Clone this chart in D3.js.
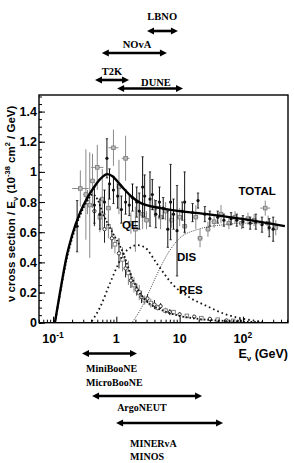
<!DOCTYPE html>
<html><head><meta charset="utf-8">
<script src="https://cdn.jsdelivr.net/npm/d3@7"></script>
<style>
html,body{margin:0;padding:0;background:#fff;}
svg{display:block;}
</style></head>
<body>
<svg id="c" width="294" height="463"></svg>
<script>
// ---------- DATA ----------
const yTicks = [0, 0.2, 0.4, 0.6, 0.8, 1, 1.2, 1.4];
const yTickLabels = ["0", "0.2", "0.4", "0.6", "0.8", "1", "1.2", "1.4"];
const xTicks = [0.1, 1, 10, 100];
const xTickBase = ["10", "1", "10", "10"];
const xTickExp = ["-1", "", "", "2"];

const totalE = [0.107, 0.13, 0.166, 0.2, 0.267, 0.35, 0.43, 0.55, 0.72, 0.88, 1.05, 1.3, 1.8, 2.4, 3.0, 5, 10, 27, 90, 460];
const totalV = [0, 0.21, 0.45, 0.58, 0.73, 0.83, 0.89, 0.95, 0.985, 0.97, 0.935, 0.89, 0.83, 0.795, 0.78, 0.76, 0.74, 0.72, 0.69, 0.64];

const qeE = [0.107, 0.13, 0.166, 0.2, 0.267, 0.35, 0.42, 0.5, 0.62, 0.89, 1.23, 1.84, 2.6, 3.5, 5.5, 10, 20, 50, 100, 200];
const qeV = [0, 0.2, 0.43, 0.56, 0.71, 0.81, 0.85, 0.82, 0.72, 0.59, 0.48, 0.28, 0.17, 0.12, 0.08, 0.045, 0.025, 0.012, 0.007, 0.004];

const resE = [0.41, 0.55, 0.79, 1.05, 1.28, 1.7, 2.1, 2.8, 4.4, 7.9, 14, 27, 50, 90, 190];
const resV = [0.01, 0.1, 0.26, 0.38, 0.45, 0.5, 0.515, 0.5, 0.39, 0.25, 0.17, 0.11, 0.06, 0.03, 0.008];

const disE = [1.8, 2.5, 3.5, 5, 7, 10, 20, 50, 100, 200, 400];
const disV = [0.005, 0.1, 0.23, 0.37, 0.48, 0.56, 0.62, 0.65, 0.66, 0.655, 0.645];

// total cross-section measurements (black)
const blkE = [0.24, 0.45, 0.55, 0.65, 0.71, 0.78, 0.9, 1.05, 1.2, 1.4, 1.6, 1.8, 2.1, 2.3, 2.6, 2.8, 3.4, 3.7, 4.2, 4.8, 5.5, 6.5, 7.2, 8, 9.1, 11, 12, 16, 19.5, 25, 30, 40, 50, 65, 80, 100, 130, 160, 200, 260, 300];
const blkV = [0.64, 0.78, 0.72, 0.8, 1.09, 0.92, 0.88, 0.84, 0.75, 0.8, 0.78, 0.83, 0.8, 0.74, 0.9, 0.84, 0.82, 0.85, 0.72, 0.8, 0.76, 0.62, 0.8, 0.72, 0.61, 0.74, 0.8, 0.73, 0.81, 0.72, 0.69, 0.7, 0.68, 0.69, 0.68, 0.67, 0.66, 0.67, 0.65, 0.63, 0.62];
const blkErr = [0.17, 0.12, 0.1, 0.08, 0.13, 0.1, 0.09, 0.08, 0.09, 0.08, 0.07, 0.09, 0.1, 0.12, 0.2, 0.14, 0.18, 0.1, 0.09, 0.1, 0.07, 0.12, 0.25, 0.1, 0.3, 0.06, 0.2, 0.06, 0.05, 0.05, 0.05, 0.04, 0.04, 0.04, 0.04, 0.04, 0.04, 0.05, 0.05, 0.06, 0.08];

// total cross-section measurements (grey, with energy bins)
const gryE = [0.27, 0.33, 0.38, 0.42, 0.5, 0.6, 0.75, 0.9, 1.1, 1.4, 1.7, 2.0, 2.6, 3.0, 4, 5, 6, 7.5, 10, 12, 18, 21, 28, 35, 45, 60, 75, 95, 120, 150, 225, 250, 330];
const gryV = [0.89, 0.85, 0.78, 0.94, 1.03, 0.82, 0.76, 1.16, 0.9, 1.09, 0.66, 0.62, 0.72, 0.68, 0.76, 0.7, 0.74, 0.68, 0.7, 0.64, 0.7, 0.56, 0.62, 0.67, 0.72, 0.66, 0.7, 0.66, 0.69, 0.68, 0.76, 0.66, 0.63];
const gryErr = [0.12, 0.3, 0.35, 0.18, 0.15, 0.2, 0.15, 0.12, 0.18, 0.15, 0.07, 0.15, 0.1, 0.06, 0.06, 0.08, 0.06, 0.05, 0.06, 0.05, 0.08, 0.06, 0.05, 0.04, 0.06, 0.04, 0.04, 0.04, 0.04, 0.04, 0.05, 0.05, 0.05];
const gryBin = [1.35, 1.1, 1.1, 1.1, 1.25, 1.1, 1.1, 1.2, 1.1, 1.15, 1.12, 1.1, 1.1, 1.1, 1.1, 1.1, 1.1, 1.1, 1.1, 1.1, 1.1, 1.1, 1.1, 1.1, 1.1, 1.1, 1.1, 1.1, 1.1, 1.1, 1.2, 1.1, 1.1];

// QE measurements
const qdE = [0.35, 0.45, 0.55, 0.65, 0.75, 0.85, 0.95, 1.1, 1.25, 1.4, 1.55, 1.7, 1.9, 2.1, 2.3, 2.5, 2.8, 3.1, 3.5, 4, 4.5, 5, 6, 7, 8, 10, 13, 17, 22, 30, 40, 55, 70, 90];
const qdV = [0.8, 0.74, 0.7, 0.62, 0.64, 0.56, 0.52, 0.46, 0.42, 0.36, 0.33, 0.28, 0.25, 0.22, 0.2, 0.17, 0.15, 0.16, 0.13, 0.12, 0.1, 0.11, 0.08, 0.07, 0.07, 0.055, 0.045, 0.04, 0.03, 0.025, 0.02, 0.015, 0.012, 0.01];
const qdErr = [0.08, 0.1, 0.1, 0.09, 0.08, 0.07, 0.06, 0.1, 0.08, 0.06, 0.08, 0.05, 0.05, 0.04, 0.05, 0.04, 0.03, 0.03, 0.03, 0.03, 0.02, 0.02, 0.02, 0.02, 0.015, 0.015, 0.01, 0.01, 0.01, 0.01, 0.01, 0.008, 0.008, 0.006];

// experiments' energy ranges
const topExp = ["LBNO", "NOvA", "T2K", "DUNE"];
const topLo = [3.05, 0.59, 0.46, 1.03];
const topHi = [9.4, 6.3, 1.59, 11.3];
const topLabelE = [5.3, 2.12, 0.855, 4.23];
const botExp = [["MiniBooNE", "MicroBooNE"], ["ArgoNEUT"], ["MINERvA", "MINOS"]];
const botLo = [0.287, 0.413, 0.99];
const botHi = [2.12, 22.6, 48.5];
const botLabelE = [0.333, 1.03, 1.65];

const curveLabels = ["TOTAL", "DIS", "RES", "QE"];
const curveLabelE = [85, 9.1, 9.8, 1.23];
const curveLabelV = [0.85, 0.41, 0.19, 0.62];

// ---------- DRAW ----------
const svg = d3.select("#c");
const L = 39, R = 288, T = 95, B = 322.7;
const x = d3.scaleLog().domain([0.06, 515]).range([L, R]);
const y = d3.scaleLinear().domain([0, 1.51]).range([B, T]);
const sans = "'Liberation Sans', Arial, Helvetica, sans-serif";
const serif = "'Liberation Serif', 'Times New Roman', serif";

const plot = svg.append("g");
plot.append("clipPath").attr("id", "clp").append("rect")
  .attr("x", L).attr("y", T).attr("width", R - L).attr("height", B - T);
const inner = plot.append("g").attr("clip-path", "url(#clp)");

// error bars: QE data
const qd = qdE.map((e, i) => ({e, v: qdV[i], err: qdErr[i], i}));
inner.append("g").selectAll("line").data(qd).join("line")
  .attr("x1", d => x(d.e)).attr("x2", d => x(d.e))
  .attr("y1", d => y(d.v - d.err)).attr("y2", d => y(d.v + d.err))
  .attr("stroke", d => d.i % 2 ? "#222" : "#888").attr("stroke-width", 1);
inner.append("g").selectAll("rect").data(qd.filter(d => d.i % 2 === 0)).join("rect")
  .attr("x", d => x(d.e) - 1.8).attr("y", d => y(d.v) - 1.8).attr("width", 3.6).attr("height", 3.6)
  .attr("fill", "#fff").attr("stroke", "#777").attr("stroke-width", 0.9);
inner.append("g").selectAll("circle").data(qd.filter(d => d.i % 2 === 1)).join("circle")
  .attr("cx", d => x(d.e)).attr("cy", d => y(d.v)).attr("r", 1.7)
  .attr("fill", "#fff").attr("stroke", "#222").attr("stroke-width", 0.9);

// grey total data
const gd = gryE.map((e, i) => ({e, v: gryV[i], err: gryErr[i], bin: gryBin[i]}));
const gG = inner.append("g");
gG.selectAll("line.v").data(gd).join("line").attr("class", "v")
  .attr("x1", d => x(d.e)).attr("x2", d => x(d.e))
  .attr("y1", d => y(d.v - d.err)).attr("y2", d => y(d.v + d.err))
  .attr("stroke", "#8a8a8a").attr("stroke-width", 1);
gG.selectAll("line.h").data(gd).join("line").attr("class", "h")
  .attr("x1", d => x(d.e / d.bin)).attr("x2", d => x(d.e * d.bin))
  .attr("y1", d => y(d.v)).attr("y2", d => y(d.v))
  .attr("stroke", "#8a8a8a").attr("stroke-width", 1);
gG.selectAll("rect").data(gd).join("rect")
  .attr("x", d => x(d.e) - 1.8).attr("y", d => y(d.v) - 1.8).attr("width", 3.6).attr("height", 3.6)
  .attr("fill", "#bbb").attr("stroke", "#777").attr("stroke-width", 0.8);

// black total data
const bd = blkE.map((e, i) => ({e, v: blkV[i], err: blkErr[i]}));
const bG = inner.append("g");
bG.selectAll("line").data(bd).join("line")
  .attr("x1", d => x(d.e)).attr("x2", d => x(d.e))
  .attr("y1", d => y(d.v - d.err)).attr("y2", d => y(d.v + d.err))
  .attr("stroke", "#111").attr("stroke-width", 1);
bG.selectAll("path.cap").data(bd).join("path").attr("class", "cap")
  .attr("d", d => `M${x(d.e)-1.2},${y(d.v - d.err)}h2.4M${x(d.e)-1.2},${y(d.v + d.err)}h2.4`)
  .attr("stroke", "#111").attr("stroke-width", 0.8);
bG.selectAll("circle").data(bd).join("circle")
  .attr("cx", d => x(d.e)).attr("cy", d => y(d.v)).attr("r", 1.6).attr("fill", "#111");

// curves
const line = d3.line().x(d => x(d[0])).y(d => y(d[1])).curve(d3.curveMonotoneX);
const zip = (a, b) => a.map((v, i) => [v, b[i]]);
inner.append("path").attr("d", line(zip(disE, disV))).attr("fill", "none")
  .attr("stroke", "#333").attr("stroke-width", 0.9).attr("stroke-dasharray", "1,1.2");
inner.append("path").attr("d", line(zip(resE, resV))).attr("fill", "none")
  .attr("stroke", "#111").attr("stroke-width", 1.8).attr("stroke-dasharray", "1.6,3");
inner.append("path").attr("d", line(zip(qeE, qeV))).attr("fill", "none")
  .attr("stroke", "#111").attr("stroke-width", 1.8).attr("stroke-dasharray", "1.6,2");
inner.append("path").attr("d", line(zip(totalE, totalV))).attr("fill", "none")
  .attr("stroke", "#000").attr("stroke-width", 2.4);

// axes
const yMinor = d3.range(0, 1.51, 0.05);
plot.append("g").attr("transform", `translate(${L},0)`)
  .call(d3.axisLeft(y).tickValues(yMinor).tickSize(-3).tickFormat(""))
  .call(g => g.select(".domain").remove());
plot.append("g").attr("transform", `translate(${L},0)`)
  .call(d3.axisLeft(y).tickValues(yTicks).tickSize(-6).tickPadding(2)
    .tickFormat((d, i) => yTickLabels[i]))
  .call(g => g.select(".domain").remove())
  .call(g => g.selectAll("text").attr("font-family", sans).attr("font-size", 12.5)
    .attr("font-weight", "bold").attr("fill", "#000"));

const xMinor = [];
for (let p = -2; p <= 2; p++) for (let k = 1; k <= 9; k++) {
  const v = k * Math.pow(10, p);
  if (v >= 0.06 && v <= 515 && k !== 1) xMinor.push(v);
}
plot.append("g").attr("transform", `translate(0,${B})`)
  .call(d3.axisBottom(x).tickValues(xMinor).tickSize(-3).tickFormat(""))
  .call(g => g.select(".domain").remove());
plot.append("g").attr("transform", `translate(0,${B})`)
  .call(d3.axisBottom(x).tickValues(xTicks).tickSize(-6).tickFormat(""))
  .call(g => g.select(".domain").remove());
svg.selectAll(".tick line").attr("stroke", "#000").attr("stroke-width", 1);

// x tick labels
const xl = svg.append("g").attr("font-family", sans).attr("font-weight", "bold").attr("fill", "#000");
xTicks.forEach((t, i) => {
  const tx = xl.append("text").attr("x", x(t)).attr("y", B + 20).attr("text-anchor", "middle")
    .attr("font-size", 12.5);
  tx.append("tspan").text(xTickBase[i]);
  if (xTickExp[i]) tx.append("tspan").attr("dy", -5).attr("font-size", 8.5).text(xTickExp[i]);
});

// frame
plot.append("rect").attr("x", L).attr("y", T).attr("width", R - L).attr("height", B - T)
  .attr("fill", "none").attr("stroke", "#000").attr("stroke-width", 1.4);

// axis titles
const xt = svg.append("text").attr("x", R).attr("y", B + 35).attr("text-anchor", "end")
  .attr("font-family", sans).attr("font-weight", "bold").attr("font-size", 12.5);
xt.append("tspan").text("E");
xt.append("tspan").attr("dy", 3).attr("font-size", 8).text("ν");
xt.append("tspan").attr("dy", -3).text(" (GeV)");

const yt = svg.append("text").attr("transform", `translate(15,${(T + B) / 2 - 5}) rotate(-90)`)
  .attr("text-anchor", "middle").attr("font-family", sans).attr("font-weight", "bold").attr("font-size", 11.5);
yt.append("tspan").text("ν cross section / E");
yt.append("tspan").attr("dy", 3).attr("font-size", 7.5).text("ν");
yt.append("tspan").attr("dy", -3).text(" (10");
yt.append("tspan").attr("dy", -5).attr("font-size", 7.5).text("-38");
yt.append("tspan").attr("dy", 5).text(" cm");
yt.append("tspan").attr("dy", -5).attr("font-size", 7.5).text("2");
yt.append("tspan").attr("dy", 5).text(" / GeV)");

// curve labels
curveLabels.forEach((s, i) => {
  svg.append("text").attr("x", x(curveLabelE[i])).attr("y", y(curveLabelV[i]))
    .attr("font-family", sans).attr("font-weight", "bold").attr("font-size", 11.5).text(s);
});

// arrows
function arrow(x1, x2, yy) {
  const hl = 7, hw = 3.6;
  svg.append("line").attr("x1", x1 + hl - 1).attr("x2", x2 - hl + 1).attr("y1", yy).attr("y2", yy)
    .attr("stroke", "#000").attr("stroke-width", 2.6);
  svg.append("path").attr("d", `M${x1},${yy}L${x1 + hl},${yy - hw}L${x1 + hl},${yy + hw}Z`).attr("fill", "#000");
  svg.append("path").attr("d", `M${x2},${yy}L${x2 - hl},${yy - hw}L${x2 - hl},${yy + hw}Z`).attr("fill", "#000");
}
const topArrowY = [31, 53, 80, 88.5];
const topTextY = [20, 48, 75, 86];
topExp.forEach((s, i) => {
  arrow(x(topLo[i]), x(topHi[i]), topArrowY[i]);
  svg.append("text").attr("x", x(topLabelE[i])).attr("y", topTextY[i]).attr("text-anchor", "middle")
    .attr("font-family", serif).attr("font-weight", "bold").attr("font-size", 10.5).text(s);
});
const botArrowY = [353.5, 396, 423];
const botTextY = [[372, 386], [411], [447, 460]];
botExp.forEach((names, i) => {
  arrow(x(botLo[i]), x(botHi[i]), botArrowY[i]);
  names.forEach((s, j) => {
    svg.append("text").attr("x", x(botLabelE[i])).attr("y", botTextY[i][j])
      .attr("font-family", serif).attr("font-weight", "bold").attr("font-size", 10).text(s);
  });
});
</script>
</body></html>
